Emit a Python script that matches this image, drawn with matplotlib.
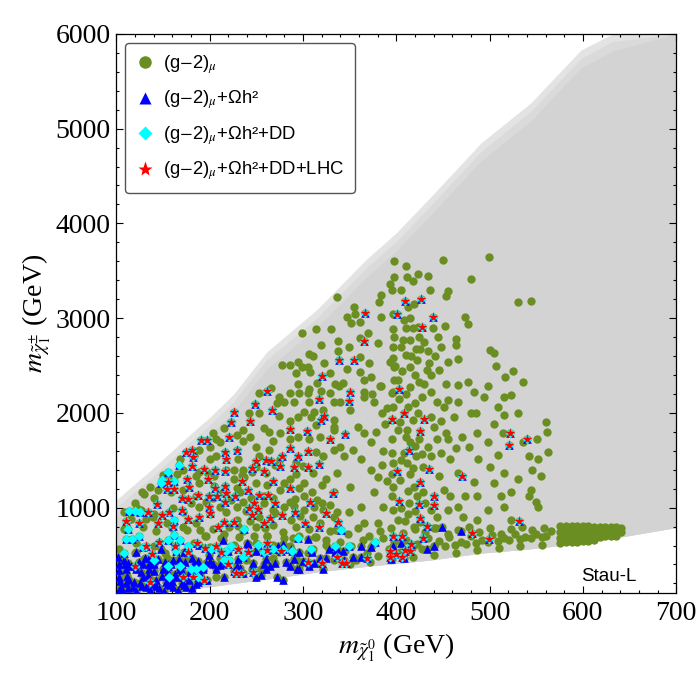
import numpy as np
import matplotlib
matplotlib.use("Agg")
import matplotlib.pyplot as plt
from matplotlib.lines import Line2D

plt.rcParams['mathtext.fontset'] = 'stix'

# ---------------- data (GeV) ----------------
# grey background region (all scanned points)
gray_x = [100, 120, 140, 160, 180, 200, 226, 261, 315, 368, 400, 437, 491, 544, 598, 632, 700]
gray_outer_y = [1080, 1250, 1420, 1600, 1780, 1950, 2200, 2640, 3090, 3620, 3900, 4280, 4850, 5270, 5830, 6000, 6000]
gray_mid_y = [1000, 1170, 1340, 1520, 1700, 1870, 2120, 2560, 3000, 3530, 3810, 4190, 4760, 5180, 5740, 5920, 6000]
gray_core_y = [900, 1070, 1240, 1420, 1600, 1770, 2020, 2460, 2900, 3430, 3710, 4090, 4660, 5080, 5640, 5820, 6000]
gray_lower_y = [100, 105, 115, 125, 140, 165, 200, 245, 320, 380, 410, 447, 520, 565, 625, 675, 790]

# (g-2)_mu only
green_x = [398, 393, 396, 384, 382, 337, 355, 347, 356, 361, 352, 370, 314, 330, 299, 319, 338, 349, 361, 381,
           361, 338, 347, 371, 384, 361, 329, 307, 311, 278, 286, 295, 293, 299, 306, 308, 323, 334, 343, 365,
           374, 266, 307, 397, 397, 398, 397, 393, 398, 398, 397,
           450, 499, 398, 412, 418, 423, 434, 480,
           531, 544, 436, 456, 453, 413, 419, 384, 408, 418, 423, 439, 452, 474, 477, 464, 464, 407, 415, 424,
           421, 434, 445, 448, 501, 505, 397, 399, 406, 411, 415, 422, 426, 435, 437, 446, 456, 466, 453, 466,
           477, 507, 517, 525, 536, 339, 365, 373, 383, 402, 415, 424,
           428, 437, 444, 451, 456, 466, 483, 494, 498, 515, 523, 509, 515, 505, 514, 530, 536, 551, 560, 562,
           563, 552, 542, 509, 498, 487, 478, 488, 501, 515, 530, 512, 523, 544, 550, 515, 505, 483, 474, 466,
           458, 464, 455, 448, 446, 451, 458, 487, 498, 487, 472, 466, 455, 444, 437, 429, 419, 415, 412, 408,
           415, 424, 434, 437, 429, 421, 396, 396, 397, 396, 397, 396, 397, 402, 413, 419, 386, 376, 380, 373,
           362, 354, 344, 337, 351, 362, 349, 337, 365, 380, 373, 365, 359, 378, 385, 376, 365, 351, 340, 333,
           340, 396, 397, 396, 402, 413, 418, 412, 423, 437, 440, 448, 453, 462, 471, 480, 485, 444, 546, 555,
           542, 523, 552,
           295, 315, 286, 296, 306, 319, 329, 253, 274, 280, 290, 307, 301, 312, 322, 333, 272, 253, 242, 274,
           286, 295, 309, 314, 333, 333, 243, 258, 264, 275, 236, 229, 215, 204, 207, 211, 200, 189, 183, 168,
           236, 250, 253, 264, 268, 286, 295, 307, 318, 314, 293, 275, 231, 226, 236, 322, 333, 200, 207, 189,
           172, 156,
           197, 218, 245, 261, 293, 311, 325, 301, 286, 275, 250, 237, 229, 189, 172, 159, 145, 130, 186, 204,
           223, 236, 258, 268, 301, 315, 333, 286, 329, 108, 127, 161, 172, 189, 200, 218, 229, 239, 253, 268,
           280, 301, 311, 322, 333, 108, 129, 143, 154, 172, 186, 204, 221, 236, 250, 268, 279, 293, 307, 318,
           329, 103, 121, 140, 157, 183, 200, 226, 250, 268, 286, 311, 325, 129, 154, 183, 211, 239, 268, 293,
           315, 333, 135, 172, 207, 111, 255, 297,
           128, 140, 120, 150, 136, 116, 139, 195, 212, 232, 262, 280, 296, 314, 120, 152, 176, 243, 274, 306,
           205, 214, 233, 262, 280, 296, 320, 310, 292, 244, 196, 180, 211, 229, 258, 290, 320, 312, 270, 287,
           297, 259, 243, 231, 216, 196, 248, 262, 289, 313, 325, 176, 160, 190, 132, 140, 115, 122, 226, 205,
           186, 165, 300, 270, 250, 235,
           405, 410, 416, 420, 403, 410, 420, 404, 411, 420, 428, 405, 418, 404, 413, 422, 405, 414, 431, 420,
           409, 425, 440, 390, 385, 386, 388, 390, 430, 433, 442, 430, 415, 405, 410,
           336, 348, 359, 371, 383, 394, 407, 420, 431, 443, 455, 466, 478, 489, 500, 512, 523, 535, 546, 558,
           566,
           340, 352, 364, 375, 386, 398, 410, 422, 434, 446, 457, 469, 480, 492, 503, 515, 527, 538, 550, 561,
           338, 345, 357, 369, 380, 392, 404, 417, 428, 440, 452, 463, 475, 486, 498, 509, 521, 533, 544, 556,
           350, 372, 395, 418, 441, 464, 487, 510, 533, 556,
           576, 582, 588, 594, 600, 606, 612, 618, 624, 630, 636, 641,
           575, 581, 587, 593, 599, 605, 611, 617, 623, 629, 635, 641,
           576, 582, 588, 594, 600, 606, 612, 618, 624, 630, 636,
           576, 582, 588, 594, 600, 606, 612]
green_y = [3600, 3360, 3300, 3240, 3170, 3220, 3120, 3010, 3040, 2960, 2950, 2840, 2880, 2890, 2840, 2720, 2760, 2700, 2790, 2740,
           2590, 2650, 2460, 2530, 2280, 2430, 2420, 2620, 2600, 2510, 2510, 2540, 2420, 2480, 2480, 2430, 2530, 2300, 2320, 2220,
           2200, 2260, 2250, 3040, 2880, 2800, 2700, 2540, 2480, 2350, 2220,
           3610, 3640, 3430, 3430, 3390, 3470, 3440, 3410,
           3170, 3180, 3300, 3290, 3230, 3120, 3150, 3010, 2980, 2900, 2910, 2900, 2920, 3010, 2940, 2780, 2720, 2770, 2770, 2800,
           2670, 2650, 2800, 2700, 2660, 2630, 2580, 2490, 2440, 2610, 2480, 2560, 2670, 2530, 2400, 2450, 2540, 2570, 2300, 2290,
           2330, 2490, 2380, 2440, 2330, 2280, 2350, 2380, 2280, 2350, 2270, 2330,
           2170, 2220, 2110, 2060, 2140, 2120, 2220, 2170, 2280, 2170, 2190, 2060, 1980, 1880, 1790, 2000, 1690, 1720, 1900, 1800,
           1590, 1510, 1540, 1560, 1690, 1790, 1640, 1510, 1430, 1370, 1300, 1120, 1160, 1190, 1060, 1010, 1260, 1270, 1120, 1370,
           1510, 1630, 1720, 1580, 1330, 1190, 1120, 1120, 980, 870, 900, 1010, 980, 900, 980, 1160, 1220, 1350, 1470, 1580,
           1690, 1720, 1640, 1540, 1430, 1540, 1720, 1580, 1470, 1350, 1220, 1120, 980, 870, 930, 800, 1010, 1160, 1320, 1400,
           1510, 1610, 1540, 1370, 1220, 1010, 950, 950, 840, 840, 1690, 1790, 1850, 1800, 2000, 2110, 2170, 2030, 2110, 1850,
           1640, 2210, 2060, 1930, 1820, 2060, 1930, 1820, 2000, 1960, 1850, 1910, 1790, 1960, 1750, 2000, 2000, 1720, 1400, 1330,
           1120, 870, 1010,
           2300, 2320, 2210, 2210, 2210, 2230, 2210, 2210, 2170, 2110, 2110, 2110, 2010, 2010, 2030, 2110, 2100, 2000, 2000, 1970,
           1910, 1960, 1960, 1870, 1930, 1820, 1750, 1840, 1800, 1790, 1820, 1770, 1840, 1790, 1720, 1690, 1640, 1610, 1540, 1510,
           1700, 1640, 1540, 1610, 1700, 1720, 1750, 1720, 1750, 1590, 1480, 1510, 1510, 1400, 1400, 1540, 1610, 1510, 1540, 1380,
           1400, 1330,
           1380, 1400, 1380, 1370, 1350, 1370, 1300, 1260, 1300, 1190, 1260, 1320, 1210, 1260, 1190, 1160, 1190, 1140, 1120, 1100,
           1080, 1060, 1120, 1100, 1120, 1080, 1160, 1060, 1030, 950, 980, 1000, 950, 1010, 930, 950, 870, 960, 900, 980,
           1010, 980, 900, 980, 900, 770, 800, 750, 840, 800, 840, 770, 800, 750, 800, 820, 740, 800, 770, 840,
           750, 560, 630, 590, 660, 630, 580, 610, 630, 610, 590, 560, 610, 450, 470, 450, 470, 450, 470, 470,
           420, 450, 270, 240, 270, 310, 350, 400,
           1160, 1100, 1050, 1340, 1220, 880, 900, 700, 680, 690, 700, 680, 700, 690, 520, 520, 470, 520, 530, 520,
           1230, 1170, 1170, 1240, 1260, 1210, 1240, 1160, 1090, 1100, 1060, 1050, 1010, 1010, 1050, 1020, 1050, 1010, 940, 870,
           910, 780, 860, 810, 720, 700, 700, 700, 680, 690, 660, 760, 780, 760, 880, 930, 880, 1000, 1300, 1330,
           1330, 1350, 1440, 1450, 1430, 1340,
           2700, 2900, 2600, 2400, 2150, 2200, 2100, 1900, 1750, 1650, 1570, 1500, 1420, 1290, 1180, 1120, 1000, 1050, 1050, 960,
           860, 850, 790, 1280, 1450, 1600, 1880, 2050, 2300, 2450, 2600, 2750, 3000, 3300, 3550,
           760, 720, 780, 700, 750, 790, 730, 770, 740, 790, 720, 760, 800, 740, 780, 720, 770, 800, 760, 780,
           750,
           640, 600, 660, 620, 680, 650, 660, 620, 680, 650, 690, 640, 700, 660, 710, 680, 720, 690, 720, 700,
           480, 540, 450, 520, 490, 560, 530, 570, 560, 590, 600, 610, 620, 630, 640, 650, 660, 670, 680, 690,
           410, 430, 460, 480, 500, 520, 550, 570, 590, 610,
           810, 810, 808, 806, 804, 802, 800, 798, 796, 794, 792, 790,
           745, 745, 745, 745, 745, 745, 745, 745, 745, 745, 742, 740,
           680, 682, 684, 686, 688, 690, 692, 694, 696, 698, 700,
           628, 632, 636, 640, 645, 650, 655]

# (g-2)_mu + Omega h^2 only
blue_x = [306, 334, 279, 272, 250, 240, 220, 214, 199, 189, 173, 161, 148, 135, 121, 108, 318, 328, 296, 286,
          261, 247, 229, 207, 189, 307, 322, 296, 272, 250, 236, 215, 197, 178, 164, 153, 143, 129, 114, 103,
          121, 135, 150, 168, 183, 111, 105, 118, 132, 146, 161, 175, 186, 135, 155, 129, 141, 170, 103, 103,
          110, 125, 140, 155, 170, 103, 113, 160, 190, 200, 230, 260, 290,
          241, 273, 287, 310, 337, 344, 362, 394, 405, 408, 294, 279, 255, 265,
          449, 469, 441, 433, 397, 394, 373, 362, 354, 343, 334,
          106, 113, 121, 128, 136, 143, 151, 158, 166, 173, 181, 188,
          104, 112, 119, 127, 134, 141, 149, 156, 163, 171, 178, 185, 193,
          102, 109, 116, 124, 131, 138, 145, 152, 159, 167, 174, 181, 188, 196, 204, 211, 218, 226, 233, 245,
          258, 270, 282, 300, 312, 325]
blue_y = [670, 590, 620, 560, 540, 630, 540, 660, 500, 610, 530, 450, 560, 470, 530, 450, 470, 560, 530, 380,
          350, 420, 380, 350, 380, 380, 350, 350, 270, 270, 310, 270, 240, 240, 270, 210, 240, 270, 240, 270,
          350, 350, 350, 350, 420, 350, 160, 160, 160, 150, 160, 160, 190, 400, 400, 400, 400, 400, 130, 400,
          200, 200, 190, 190, 200, 340, 420, 230, 300, 440, 460, 460, 460,
          620, 600, 560, 530, 560, 450, 600, 540, 630, 470, 350, 240, 290, 380,
          800, 750, 600, 560, 600, 460, 580, 480, 480, 540, 530,
          115, 150, 120, 170, 130, 175, 125, 180, 135, 185, 150, 210,
          230, 280, 220, 320, 290, 330, 280, 320, 300, 330, 300, 330, 350,
          480, 400, 380, 430, 470, 420, 460, 430, 400, 460, 430, 470, 440, 420, 400, 390, 420, 330, 360, 350,
          410, 420, 430, 440, 420, 470]

# (g-2)_mu + Omega h^2 + DD only
cyan_x = [156, 167, 149, 162, 148, 114, 120, 125, 113, 111, 117, 124, 129, 162, 162, 156, 168, 177, 164, 156,
          157, 168, 180, 186, 193, 188, 202, 218, 223, 215, 221, 236, 237, 252, 258, 268, 279, 288, 295, 309,
          334, 341, 349, 377, 108, 140]
cyan_y = [1380, 1450, 1290, 1280, 1260, 960, 960, 950, 770, 670, 670, 700, 580, 870, 710, 660, 660, 590, 540, 380,
          270, 380, 350, 350, 370, 270, 560, 540, 590, 450, 450, 480, 770, 610, 530, 560, 560, 540, 680, 560,
          600, 760, 600, 640, 520, 450]

# (g-2)_mu + Omega h^2 + DD + LHC
red_x = [367, 409, 427, 401, 439, 428, 366, 339, 355, 321, 262, 249, 317, 226, 267, 323, 319, 223, 243, 286,
         304, 329, 191, 197, 221, 229, 175, 181, 286, 306, 217, 278, 295, 182, 218, 250, 260, 266, 276, 291,
         306, 317, 181, 194, 206, 217, 245, 258, 176, 198, 155, 235, 268, 154, 162, 178, 206, 217, 241, 286,
         218, 170, 177, 188, 199, 208, 217, 227, 248, 253, 263, 270, 308, 144, 134, 157, 170, 199, 242, 252,
         111, 124, 145, 149, 161, 177, 189, 201, 209, 216, 226, 245, 258, 265, 278, 292, 302, 317, 325, 132,
         146, 138, 163, 177, 187, 195, 207, 212, 220, 231, 241, 228, 234, 247, 262, 262, 277, 305, 320, 120,
         136, 172, 182, 194, 408, 396, 430, 425, 345, 403, 351, 349, 414, 522, 540, 521, 401, 435, 471, 425,
         332, 441, 403, 424, 440, 426, 338, 433, 532, 397, 406, 429, 481, 499, 416, 409, 415, 393, 400, 393,
         406, 369, 337, 342, 346]
red_y = [3050, 3180, 3200, 3040, 3010, 2910, 2760, 2560, 2560, 2390, 2230, 2090, 2150, 2010, 2030, 1970, 1920, 1900, 1910, 1830,
         1810, 1720, 1710, 1710, 1750, 1610, 1590, 1610, 1630, 1600, 1590, 1550, 1550, 1530, 1510, 1490, 1500, 1490, 1440, 1430,
         1430, 1460, 1440, 1410, 1400, 1390, 1420, 1390, 1300, 1300, 1270, 1280, 1280, 1200, 1200, 1220, 1210, 1230, 1190, 1210,
         1150, 1100, 1090, 1130, 1120, 1120, 1060, 1120, 1050, 1130, 1130, 1050, 1060, 1040, 950, 950, 980, 1010, 1000, 990,
         860, 840, 840, 920, 810, 880, 900, 940, 800, 850, 850, 920, 840, 890, 920, 950, 840, 800, 940, 600,
         640, 510, 600, 530, 630, 570, 600, 530, 410, 560, 530, 310, 310, 320, 550, 630, 540, 430, 420, 380,
         220, 270, 270, 240, 2000, 1940, 1940, 1810, 1780, 2250, 2220, 2130, 1610, 1790, 1720, 1660, 1390, 1410, 1330, 1270,
         1150, 1120, 1070, 1040, 1030, 890, 850, 810, 860, 700, 700, 680, 730, 670, 620, 550, 540, 540, 510, 480,
         480, 470, 480, 420, 420]

legend_labels = [r'(g$-$2)$_{\mu}$',
                 r'(g$-$2)$_{\mu}$+Ωh²',
                 r'(g$-$2)$_{\mu}$+Ωh²+DD',
                 r'(g$-$2)$_{\mu}$+Ωh²+DD+LHC']
x_ticks = [100, 200, 300, 400, 500, 600, 700]
y_ticks = [1000, 2000, 3000, 4000, 5000, 6000]

# ---------------- colours ----------------
C_GREEN = '#6b8e23'
C_BLUE = '#0000ff'
C_CYAN = '#00ffff'
C_RED = '#ff0000'

fig = plt.figure(figsize=(7, 7), dpi=100)
ax = fig.add_axes([0.166, 0.153, 0.8, 0.7986])

gx = np.array(gray_x)
ax.fill_between(gx, gray_lower_y, gray_outer_y, color='#e3e3e3', lw=0, zorder=1)
ax.fill_between(gx, gray_lower_y, gray_mid_y, color='#dadada', lw=0, zorder=1)
ax.fill_between(gx, gray_lower_y, gray_core_y, color='#d3d3d3', lw=0, zorder=1)

# nested subsets: every higher level point is also a member of the lower levels
all_x = green_x + blue_x + cyan_x + red_x
all_y = green_y + blue_y + cyan_y + red_y
bl_x = blue_x + cyan_x + red_x
bl_y = blue_y + cyan_y + red_y
cy_x = cyan_x + red_x
cy_y = cyan_y + red_y

ax.scatter(all_x, all_y, s=36, marker='o', color=C_GREEN, linewidths=0, zorder=2)
ax.scatter(bl_x, bl_y, s=38, marker='^', color=C_BLUE, linewidths=0, zorder=3)
ax.scatter(cy_x, cy_y, s=26, marker='D', color=C_CYAN, linewidths=0, zorder=4)
ax.scatter(red_x, red_y, s=58, marker='*', color=C_RED, linewidths=0, zorder=5)

ax.set_xlim(100, 700)
ax.set_ylim(100, 6000)
ax.set_xticks(x_ticks)
ax.set_yticks(y_ticks)
ax.set_xticks(np.arange(100, 701, 20), minor=True)
ax.set_yticks(np.arange(200, 6001, 200), minor=True)
ax.tick_params(which='both', direction='in', top=True, right=True, width=0.8)
ax.tick_params(which='major', length=5)
ax.tick_params(which='minor', length=2.5)
for lab in ax.get_xticklabels() + ax.get_yticklabels():
    lab.set_fontfamily('Liberation Serif')
    lab.set_fontsize(20)
ax.tick_params(axis='x', pad=6)
ax.tick_params(axis='y', pad=4)
for sp in ax.spines.values():
    sp.set_linewidth(0.9)

ax.set_xlabel(r'$m_{\tilde{\chi}_1^0}$ (GeV)', fontsize=20, family='Liberation Serif', labelpad=4)
ax.set_ylabel(r'$m_{\tilde{\chi}_1^{\pm}}$ (GeV)', fontsize=20, family='Liberation Serif', labelpad=2)

ax.text(0.830, 0.029, 'Stau-L', transform=ax.transAxes, ha='left', va='center',
        fontsize=13.5, family='Liberation Sans', zorder=6)

handles = [Line2D([], [], ls='none', marker='o', ms=9, color=C_GREEN, mec='none'),
           Line2D([], [], ls='none', marker='^', ms=8, color=C_BLUE, mec='none'),
           Line2D([], [], ls='none', marker='D', ms=7, color=C_CYAN, mec='none'),
           Line2D([], [], ls='none', marker='*', ms=11, color=C_RED, mec='none')]
leg = ax.legend(handles, legend_labels, loc='upper left', bbox_to_anchor=(0.0, 1.0),
                prop={'family': 'Liberation Sans', 'size': 13.3}, frameon=True, fancybox=True,
                framealpha=1, edgecolor='#555555', labelspacing=0.7, handlelength=1.0,
                handletextpad=0.5, borderpad=0.55, borderaxespad=0.5)
leg.get_frame().set_linewidth(1.0)
leg.set_zorder(10)

fig.savefig('out.png', dpi=100)
